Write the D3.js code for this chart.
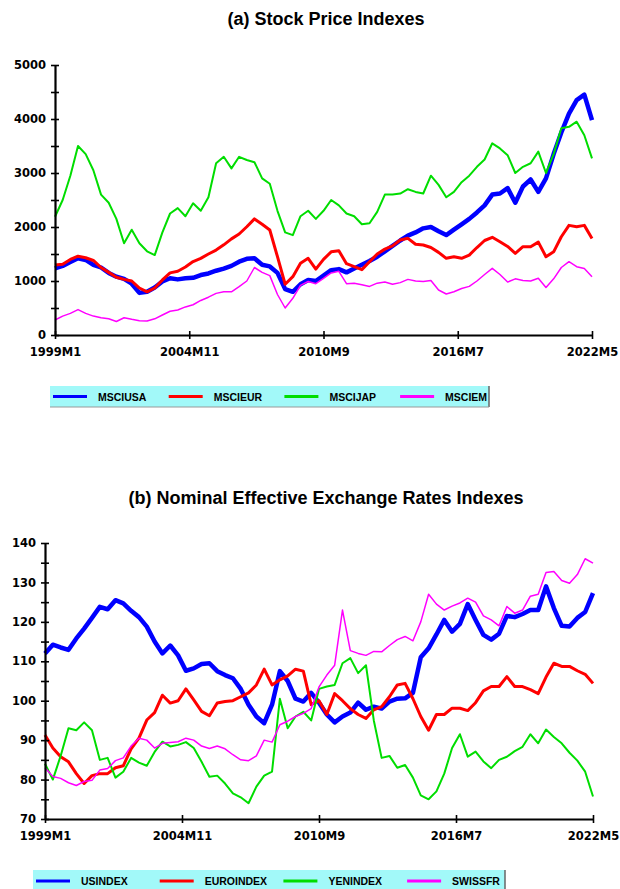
<!DOCTYPE html>
<html><head><meta charset="utf-8">
<script src="https://cdn.jsdelivr.net/npm/d3@7"></script>
<style>
html,body{margin:0;padding:0;background:#fff;}
svg{display:block;}
</style></head>
<body>
<svg id="chart" width="620" height="889"></svg>
<script>
// Month index from 1999M1 (0) to 2022M5 (280), sampled every 4 months
const months = d3.range(0, 281, 4);
const xTickMonths = [0, 70, 140, 210, 280];
const xTickLabels = ["1999M1", "2004M11", "2010M9", "2016M7", "2022M5"];

// (a) Stock price indexes
const stockNames = ["MSCIUSA", "MSCIEUR", "MSCIJAP", "MSCIEM"];
const msciUSA = [1234,1280,1350,1420,1390,1300,1250,1150,1080,1040,
 950,780,800,880,990,1050,1030,1050,1060,1110,
 1140,1190,1230,1280,1357,1410,1420,1300,1270,1150,
 850,800,940,1020,1000,1100,1200,1220,1160,1230,
 1300,1370,1450,1550,1650,1750,1840,1900,1975,2000,
 1920,1850,1950,2050,2150,2270,2400,2600,2620,2720,
 2450,2750,2880,2650,2900,3350,3750,4100,4350,4450,
 3980];
const msciEUR = [1296,1310,1400,1460,1430,1380,1250,1160,1070,1030,
 1000,870,800,870,1020,1150,1180,1260,1360,1420,
 1500,1573,1670,1780,1870,2005,2150,2050,1944,1450,
 940,1080,1330,1420,1220,1400,1540,1560,1320,1265,
 1210,1357,1500,1590,1650,1760,1790,1680,1666,1620,
 1530,1420,1450,1420,1480,1620,1750,1810,1728,1640,
 1512,1635,1635,1720,1450,1540,1820,2030,2005,2030,
 1789];
const msciJAP = [2190,2500,2950,3500,3350,3050,2600,2450,2150,1700,
 1950,1700,1550,1480,1900,2250,2350,2200,2440,2300,
 2550,3180,3300,3085,3300,3240,3200,2900,2800,2300,
 1900,1850,2200,2300,2150,2300,2500,2400,2250,2200,
 2050,2070,2280,2600,2600,2620,2700,2650,2620,2950,
 2780,2550,2650,2830,2950,3115,3250,3550,3455,3330,
 3000,3115,3180,3395,3000,3350,3830,3855,3950,3700,
 3270];
const msciEM = [278,350,400,470,400,350,320,300,250,320,
 290,265,260,300,370,440,463,520,560,640,
 700,771,802,800,895,1000,1250,1160,1100,750,
 500,680,920,990,950,1050,1150,1180,950,960,
 930,900,960,980,940,970,1030,1000,990,1010,
 833,760,800,860,900,1000,1120,1234,1120,980,
 1040,1010,1000,1050,880,1040,1250,1357,1265,1230,
 1080];
const stockTicks = d3.range(0, 5001, 500);

// (b) Nominal effective exchange rates indexes
const fxNames = ["USINDEX", "EUROINDEX", "YENINDEX", "SWISSFR"];
const usIndex = [112,114.2,113.5,112.9,115.8,118.3,121,123.8,123.2,125.5,
 124.7,122.8,121.2,118.8,115,112,114,111.5,107.6,108.2,
 109.3,109.5,107.5,106.5,105.7,103,99,96,94.3,99,
 107.5,105,100.5,99.8,102,99.5,96.5,94.5,96,97,
 99.5,97.7,98.5,98,99.8,100.5,100.6,102,111,113.3,
 116.8,120.5,117.5,119.5,124.5,120.5,116.7,115.5,117,121.5,
 121.2,122,123,123,129,123.5,119,118.8,121,122.5,
 127.3];
const euroIndex = [91.3,88,85.8,84.5,81.5,79,81,81.5,81.5,83,
 83.5,87.8,90.5,95.1,97,101.4,99.4,100,103,100.2,
 97.3,96.2,99.4,99.8,100,101,102,104,108,104,
 105.3,106.3,108,107.5,99,100,96.5,101.8,100,98,
 96.5,95.5,97.7,98.5,101,104,104.4,100.5,96,92.5,
 96.5,96.5,98.1,98.1,97.5,99.5,102.5,103.6,103.6,106.1,
 103.6,103.6,102.8,101.8,106,109.5,108.7,108.7,107.6,106.7,
 104.4];
const yenIndex = [84,80,86,93,92.5,94.5,92.5,85,85.5,80.5,
 82,85.5,84.3,83.5,87,89.6,88.4,88.8,89.5,88,
 84.5,80.7,81,79,76.5,75.5,74,78.2,81,82,
 100.5,93,96,97.2,95,103,103.6,104,109.5,110.8,
 107,109,95,85.5,86,83,83.7,80.5,76,75,
 77,81.5,88,91.5,85.8,87.1,84.6,82.9,85,85.8,
 87.2,88.3,91.5,89.2,92.7,90.8,89.2,86.8,84.8,82,
 75.7];
const swissFr = [83,80.8,80.3,79.2,78.5,79.5,79.8,82.4,82.8,84.8,
 85.5,88.5,90.5,90,88,89.2,89.4,89.6,90.5,90,
 88.5,87.9,88.5,87.8,86.3,85,84.8,86,90,89.5,
 93.9,94.8,96,96.8,98,103.5,106.5,109,123,112.7,
 112,111.5,112.5,112.4,114,115.5,116.3,115.2,120,127,
 124.5,123,124,124.8,126,125,121.5,120.5,119,123.9,
 122.2,123,126.5,127,132.5,132.8,130.5,129.8,132,136,
 134.9];
const fxTicks = d3.range(70, 141, 5);

const colors = ["#0000ff", "#ff0000", "#00dd00", "#ff00ff"];
const widths = [4.5, 3, 2, 1.5];

const svg = d3.select("#chart");
svg.append("rect").attr("width", 620).attr("height", 889).attr("fill", "#fff");

function panel(cfg) {
  const x = d3.scaleLinear().domain([0, 280]).range([cfg.x0, cfg.x1]);
  const y = d3.scaleLinear().domain(cfg.yDomain).range([cfg.yBottom, cfg.yTop]);

  svg.append("text")
    .attr("x", 326).attr("y", cfg.titleY)
    .attr("text-anchor", "middle")
    .attr("font-family", "'Liberation Sans', Arial, sans-serif")
    .attr("font-weight", "bold").attr("font-size", 18)
    .text(cfg.title);

  const line = d3.line().x((d, i) => x(months[i])).y(d => y(d));
  cfg.series.forEach((s, k) => {
    svg.append("path").datum(s)
      .attr("fill", "none").attr("stroke", colors[k])
      .attr("stroke-width", widths[k])
      .attr("stroke-linejoin", "round")
      .attr("d", line);
  });

  // y axis
  const yAx = svg.append("g").attr("transform", `translate(${cfg.x0},0)`)
    .call(d3.axisLeft(y).tickValues(cfg.yTicks).tickSize(0).tickPadding(9)
      .tickFormat(d => cfg.labelTick(d) ? d : ""));
  yAx.select(".domain").attr("stroke", "#000").attr("stroke-width", 2.2);
  yAx.selectAll(".tick line").attr("x1", -4).attr("x2", 4).attr("stroke", "#000").attr("stroke-width", 1.6);
  yAx.selectAll("text").attr("font-family", "'DejaVu Sans', sans-serif")
    .attr("font-weight", "bold").attr("font-size", 11.5).attr("fill", "#000");

  // x axis
  const xAx = svg.append("g").attr("transform", `translate(0,${cfg.yBottom})`)
    .call(d3.axisBottom(x).tickValues(xTickMonths).tickSize(0)
      .tickFormat((d, i) => xTickLabels[i]));
  xAx.select(".domain").attr("stroke", "#000").attr("stroke-width", 2.2);
  xAx.selectAll(".tick line").attr("y1", -4).attr("y2", 4).attr("stroke", "#000").attr("stroke-width", 1.6);
  xAx.selectAll("text").attr("font-family", "'DejaVu Sans', sans-serif")
    .attr("font-weight", "bold").attr("font-size", 11.5).attr("fill", "#000")
    .attr("y", 21).attr("dy", 0);

  // legend
  const lg = svg.append("g");
  lg.append("rect").attr("x", cfg.lgX).attr("y", cfg.lgY)
    .attr("width", cfg.lgW).attr("height", cfg.lgH).attr("fill", "#a2f9f9");
  lg.append("line").attr("x1", cfg.lgX + cfg.lgW).attr("x2", cfg.lgX + cfg.lgW)
    .attr("y1", cfg.lgY).attr("y2", cfg.lgY + cfg.lgH).attr("stroke", "#666").attr("stroke-width", 1.5);
  lg.append("line").attr("x1", cfg.lgX).attr("x2", cfg.lgX + cfg.lgW)
    .attr("y1", cfg.lgY + cfg.lgH).attr("y2", cfg.lgY + cfg.lgH).attr("stroke", "#999").attr("stroke-width", 1);
  cfg.names.forEach((n, k) => {
    const lx = cfg.lgX + 3 + k * cfg.lgStep;
    const cy = cfg.lgY + cfg.lgH / 2;
    lg.append("line").attr("x1", lx).attr("x2", lx + 34).attr("y1", cy).attr("y2", cy)
      .attr("stroke", colors[k]).attr("stroke-width", 3);
    lg.append("text").attr("x", lx + 45).attr("y", cy + 4)
      .attr("font-family", "'Liberation Sans', Arial, sans-serif")
      .attr("font-weight", "bold").attr("font-size", 10.5).attr("fill", "#000")
      .text(n);
  });
}

panel({
  title: "(a) Stock Price Indexes", titleY: 25,
  x0: 55, x1: 592, yTop: 65, yBottom: 335, yDomain: [0, 5000],
  yTicks: stockTicks, labelTick: d => d % 1000 === 0,
  series: [msciUSA, msciEUR, msciJAP, msciEM], names: stockNames,
  lgX: 50, lgY: 386, lgW: 439, lgH: 21, lgStep: 115.7
});

panel({
  title: "(b) Nominal Effective Exchange Rates Indexes", titleY: 504,
  x0: 45, x1: 593, yTop: 543, yBottom: 819, yDomain: [70, 140],
  yTicks: fxTicks, labelTick: d => d % 10 === 0,
  series: [usIndex, euroIndex, yenIndex, swissFr], names: fxNames,
  lgX: 33, lgY: 870, lgW: 472, lgH: 22, lgStep: 123.7
});
</script>
</body></html>
